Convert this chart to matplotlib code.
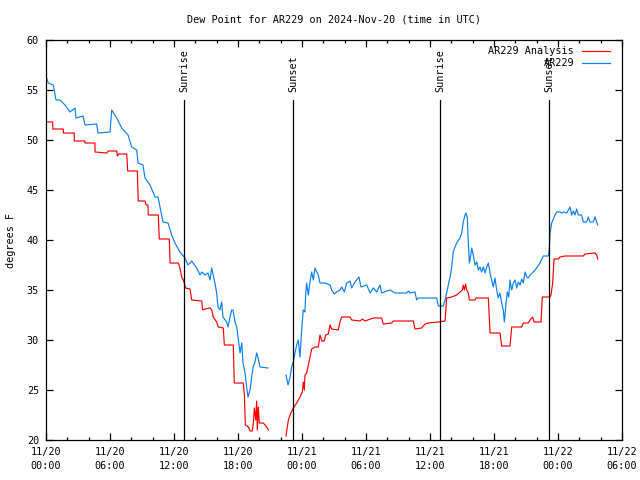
import numpy as np
import matplotlib
matplotlib.use("Agg")
import matplotlib.pyplot as plt
from matplotlib.lines import Line2D

# hours since 2024-11-20 00:00 UTC
blue_t = [0.07,0.2,0.68,0.94,1.31,1.78,2.25,2.72,2.81,3.47,3.66,4.75,4.88,6.0,6.16,6.63,7.10,7.69,8.03,8.50,8.63,9.09,9.28,9.75,10.22,10.5,10.69,10.97,11.44,11.78,12.09,12.56,13.03,13.31,13.66,14.13,14.44,14.6,14.91,15.19,15.38,15.53,15.84,16.0,16.13,16.31,16.47,16.59,16.94,17.06,17.25,17.41,17.53,17.72,17.88,18.0,18.19,18.35,18.47,18.66,18.81,18.94,19.13,19.28,19.41,19.59,19.75,19.88,20.06,20.81,
          21.6,
          22.5,22.69,22.88,23.03,23.18,23.34,23.5,23.65,23.81,23.97,24.12,24.28,24.35,24.44,24.59,24.75,24.91,25.06,25.22,25.38,25.53,25.69,26.16,26.63,26.78,27.03,27.25,27.56,27.72,27.97,28.19,28.5,28.66,28.97,29.34,29.53,30.07,30.38,30.69,31.0,31.31,31.47,31.94,32.25,32.72,33.82,33.97,34.13,34.59,34.75,34.9,36.63,36.78,37.25,37.41,37.56,37.72,37.88,38.03,38.18,38.34,38.5,38.81,38.97,39.12,39.28,39.38,39.5,39.59,39.69,39.82,39.91,40.06,40.22,40.38,40.53,40.69,40.84,41.0,41.16,41.32,41.47,41.63,41.78,41.93,42.09,42.25,42.4,42.56,42.72,42.87,42.97,43.13,43.25,43.38,43.5,43.66,43.81,43.97,44.13,44.28,44.44,44.6,44.75,44.91,45.07,45.22,45.38,45.68,46.0,46.31,46.62,47.09,47.18,47.25,47.41,47.56,47.72,47.88,48.19,48.35,48.5,48.82,49.13,49.29,49.44,49.59,49.75,49.9,50.22,50.37,50.69,50.84,51.0,51.31,51.47,51.63,51.72]
blue_v = [56.2,55.7,55.5,54.0,54.0,53.5,52.8,53.2,52.2,52.4,51.5,51.6,50.7,50.8,53.0,52.2,51.2,50.5,49.3,49.0,47.7,47.5,46.2,45.5,44.3,44.3,43.3,41.8,41.7,40.5,39.7,38.8,38.2,37.5,37.9,37.2,36.5,36.8,36.5,36.7,36.0,37.2,35.7,34.7,33.3,33.0,33.8,32.3,31.8,31.3,32.3,33.0,33.0,31.8,31.3,30.3,28.7,29.7,27.7,26.7,25.3,24.3,25.0,26.3,27.3,27.8,28.7,28.2,27.3,27.2,
          np.nan,
          26.5,25.5,26.3,27.3,27.8,28.7,29.5,30.0,28.3,31.0,33.0,32.8,34.7,35.7,34.5,35.8,36.8,36.0,37.2,36.8,36.5,35.7,35.7,35.5,35.0,34.6,34.8,35.0,35.3,34.8,35.7,35.9,35.2,35.8,36.3,35.3,35.5,34.7,35.2,34.8,35.5,34.7,34.9,35.0,34.7,34.7,34.9,34.7,34.8,34.0,34.2,34.2,33.4,33.4,34.0,34.7,35.5,36.3,37.3,38.8,39.3,39.7,40.2,40.7,41.8,42.5,42.7,42.2,39.8,37.7,38.5,39.2,38.5,37.5,37.8,37.0,37.3,36.8,37.3,36.7,37.3,37.7,36.7,36.0,35.3,36.2,35.0,34.2,34.7,33.7,33.0,31.8,33.7,34.8,34.3,36.0,35.0,35.7,36.0,35.2,35.8,35.5,36.1,35.7,36.8,36.3,36.2,36.5,36.8,37.2,37.7,38.4,38.4,39.0,40.7,41.7,42.1,42.5,42.8,42.8,42.7,42.8,42.7,43.3,42.5,42.9,42.5,43.1,42.5,42.5,41.8,41.8,42.3,41.8,41.8,42.3,41.8,41.5]

red_t = [0.07,0.63,0.64,1.62,1.63,2.65,2.66,3.65,3.66,4.59,4.6,5.69,5.84,6.63,6.69,6.81,7.57,7.66,8.56,8.65,9.28,9.38,9.56,9.59,10.53,10.62,11.56,11.63,12.4,12.56,12.72,12.87,12.94,13.09,13.5,13.66,14.6,14.69,14.91,15.38,15.53,15.68,16.0,16.15,16.62,16.72,17.56,17.65,18.5,18.6,18.69,18.97,19.13,19.34,19.44,19.53,19.66,19.75,19.81,19.9,20.0,20.37,20.69,20.84,
         21.6,
         22.5,22.62,22.72,22.88,23.18,23.5,23.81,24.03,24.12,24.22,24.28,24.44,24.59,24.75,24.91,25.22,25.53,25.69,25.85,26.09,26.22,26.47,26.63,26.78,27.4,27.56,27.72,28.5,28.66,29.44,29.65,29.91,30.69,31.47,31.62,32.41,32.56,34.44,34.59,35.22,35.53,35.84,36.78,37.41,37.56,38.03,38.5,38.81,39.03,39.12,39.22,39.34,39.44,39.59,39.69,40.22,40.31,41.47,41.63,42.56,42.72,43.5,43.66,44.6,44.75,45.22,45.38,45.63,45.75,46.41,46.53,47.25,47.34,47.5,47.63,48.03,48.19,48.66,50.37,50.53,51.47,51.63,51.72]
red_v = [51.8,51.8,51.1,51.1,50.7,50.7,49.9,49.9,49.7,49.7,48.8,48.7,48.9,48.9,48.4,48.6,48.6,46.9,46.9,43.9,43.9,43.5,43.5,42.5,42.5,40.1,40.1,37.7,37.7,37.2,36.3,36.0,35.8,35.2,35.1,34.0,33.9,33.0,33.1,33.2,33.0,32.3,31.8,31.3,31.2,29.5,29.5,25.7,25.7,24.5,21.5,21.3,20.9,20.9,21.7,23.2,22.0,23.9,21.0,23.3,21.7,21.7,21.3,21.0,
         np.nan,
         20.4,21.3,22.0,22.5,23.2,23.7,24.3,24.8,25.8,25.0,26.5,26.7,27.5,28.3,29.1,29.3,29.3,30.5,29.9,29.9,30.5,30.6,31.5,31.1,31.0,31.8,32.3,32.3,32.0,31.9,32.1,31.9,32.2,32.2,31.6,31.7,31.9,31.9,31.1,31.2,31.6,31.7,31.8,31.9,34.2,34.3,34.5,34.8,35.0,35.5,35.0,35.6,35.0,34.7,34.0,34.0,34.2,34.2,30.7,30.7,29.4,29.4,31.3,31.3,31.7,31.7,32.0,32.3,31.8,31.8,34.3,34.3,34.5,35.7,38.1,38.1,38.3,38.4,38.4,38.6,38.7,38.5,38.1]

sun_t = [12.94, 23.16, 36.94, 47.16]
sun_lbl = ["Sunrise", "Sunset", "Sunrise", "Sunset"]

xtick_h = [0, 6, 12, 18, 24, 30, 36, 42, 48, 54]
xtick_lbl = ["11/20\n00:00", "11/20\n06:00", "11/20\n12:00", "11/20\n18:00",
             "11/21\n00:00", "11/21\n06:00", "11/21\n12:00", "11/21\n18:00",
             "11/22\n00:00", "11/22\n06:00"]

series_names = ["AR229 Analysis", "AR229"]
series_colors = ["#ff0000", "#0a80f0"]

FS = 7.3
plt.rcParams['font.family'] = ['DejaVu Sans Mono']
fig = plt.figure(figsize=(6.4, 4.8), dpi=100)
ax = fig.add_axes([46/640, 40/480, 576/640, 400/480])

ax.plot(red_t, red_v, color=series_colors[0], lw=0.85)
ax.plot(blue_t, blue_v, color=series_colors[1], lw=0.85)

for t, lbl in zip(sun_t, sun_lbl):
    ax.plot([t, t], [20, 54], color='black', lw=0.9)
    ax.text(t, 54.8, lbl, rotation=90, ha='center', va='bottom', fontsize=FS)

ax.set_xlim(0, 54)
ax.set_ylim(20, 60)
ax.set_xticks(xtick_h)
ax.set_xticklabels(xtick_lbl, fontsize=FS, linespacing=1.5)
ax.set_xticks(np.arange(0, 55, 2), minor=True)
ax.set_yticks(np.arange(20, 61, 5))
ax.tick_params(axis='y', labelsize=FS)
ax.tick_params(which='major', direction='in', length=5, width=0.9, top=True, right=True, pad=5)
ax.tick_params(which='minor', direction='in', length=2.5, width=0.9, top=True, right=True)
for s in ax.spines.values():
    s.set_linewidth(0.9)
ax.set_ylabel('degrees F', fontsize=FS, labelpad=8)
ax.set_title('Dew Point for AR229 on 2024-Nov-20 (time in UTC)', fontsize=FS, pad=12.5)

# gnuplot-style key, top right
for i, (name, col) in enumerate(zip(series_names, series_colors)):
    yy = 1 - (50.5 + 12.5 * i) / 480
    fig.text(574 / 640, yy, name, ha='right', va='center', fontsize=FS)
    fig.add_artist(Line2D([582 / 640, 610 / 640], [yy, yy], color=col, lw=0.85,
                          transform=fig.transFigure))

fig.savefig('out.png', dpi=100)
